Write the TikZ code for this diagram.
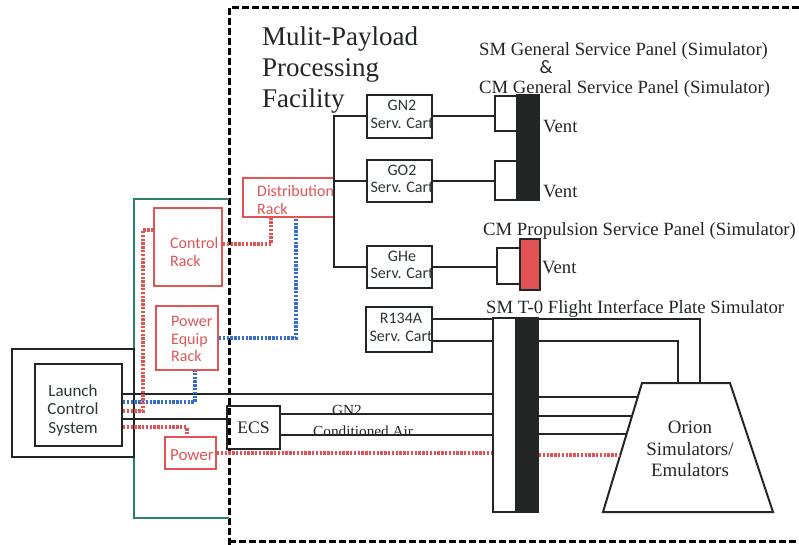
\documentclass[tikz,border=0pt]{standalone}
\usepackage{fontspec}
\setmainfont{Liberation Serif}
\setsansfont{Carlito}
\usetikzlibrary{calc}
\definecolor{myred}{RGB}{226,84,84}
\definecolor{myblue}{RGB}{55,110,205}
\definecolor{mygreen}{RGB}{40,130,100}
\definecolor{ink}{RGB}{34,38,36}
\definecolor{sanstext}{RGB}{45,55,50}
\begin{document}
\begin{tikzpicture}[x=1pt,y=-1pt,
  box/.style={draw=ink, line width=2pt, inner sep=0pt},
  rbox/.style={draw=myred, line width=2pt, inner sep=0pt},
  wire/.style={draw=ink, line width=2pt},
  rdots/.style={draw=myred, line width=4pt, dash pattern=on 2.4pt off 1.4pt},
  bdots/.style={draw=myblue, line width=4pt, dash pattern=on 2.4pt off 1.4pt},
  sanslbl/.style={font=\sffamily\fontsize{16}{17.5}\selectfont, text=sanstext, inner sep=0pt},
  redlbl/.style={font=\sffamily\fontsize{16}{17.5}\selectfont, text=myred, inner sep=0pt, align=left},
  seriflbl/.style={font=\fontsize{18.7}{21}\selectfont, text=ink, inner sep=0pt},
]
\useasboundingbox (0,0) rectangle (799,545);

% facility boundary
\draw[black, line width=3pt, dash pattern=on 7pt off 3pt] (799,8) -- (229,8) -- (229,545);
\draw[black, line width=3pt, dash pattern=on 7pt off 3pt] (229,541) -- (799,541);
% green enclosure
\draw[mygreen, line width=1.8pt] (229,199) -- (134,199) -- (134,518) -- (229,518);

% boxes
\node[box, minimum width=122pt, minimum height=108pt] (lcsout) at (73,403) {};
\node[box, minimum width=87pt, minimum height=82pt] (lcs) at (78.5,405) {};
\node[sanslbl, font=\sffamily\fontsize{17}{18.5}\selectfont, align=center] (lcstxt) at (73,410) {Launch\\Control\\System};

\node[rbox, minimum width=68pt, minimum height=78pt] (cr) at (188,247) {};
\node[redlbl, anchor=west] (crtxt) at (170,252) {Control\\Rack};
\node[rbox, minimum width=62pt, minimum height=64pt] (pe) at (187,338) {};
\node[redlbl, anchor=west] (petxt) at (171,339) {Power\\Equip\\Rack};
\node[rbox, minimum width=51pt, minimum height=32pt] (pw) at (190.5,453) {};
\node[redlbl, font=\sffamily\fontsize{17}{18}\selectfont] (pwtxt) at (192,455) {Power};
\node[rbox, minimum width=91pt, minimum height=39pt] (dist) at (288.5,197.5) {};
\node[redlbl, anchor=west] (disttxt) at (257,200) {Distribution\\Rack};

\node[box, minimum width=53pt, minimum height=43pt] (ecs) at (253.5,427.5) {};
\node[seriflbl, font=\fontsize{17.6}{20}\selectfont] (ecstxt) at (253.5,428) {ECS};

\node[box, minimum width=65pt, minimum height=43pt] (gn2) at (399.5,116.5) {};
\node[sanslbl, align=center] (gn2txt) at (402,114.5) {GN2\\Serv. Cart};
\node[box, minimum width=65pt, minimum height=42pt] (go2) at (399.5,181) {};
\node[sanslbl, align=center] (go2txt) at (402,179) {GO2\\Serv. Cart};
\node[box, minimum width=65pt, minimum height=42pt] (ghe) at (399.5,267) {};
\node[sanslbl, align=center] (ghetxt) at (402,265) {GHe\\Serv. Cart};
\node[box, minimum width=66pt, minimum height=45pt] (r134) at (399,329.5) {};
\node[sanslbl, align=center] (r134txt) at (401,327.5) {R134A\\Serv. Cart};

% service panels
\node[box, minimum width=22pt, minimum height=35pt] (w1) at (506,113.5) {};
\node[box, minimum width=22pt, minimum height=39pt] (w2) at (506,180.5) {};
\node[box, fill=ink, minimum width=22pt, minimum height=105pt] (bar1) at (528,147.5) {};
\node[box, minimum width=23pt, minimum height=36pt] (cmw) at (508.5,266) {};
\node[box, fill=myred, minimum width=20pt, minimum height=51pt] (cmb) at (530,264.5) {};
\node[box, minimum width=23pt, minimum height=194pt] (t0w) at (504.5,415) {};
\node[box, fill=ink, minimum width=22pt, minimum height=194pt] (t0b) at (527,415) {};

% Orion trapezoid
\coordinate (otl) at (642,383);
\coordinate (otr) at (730,383);
\coordinate (obr) at (773,512);
\coordinate (obl) at (603,512);
\draw[wire] (otl) -- (otr) -- (obr) -- (obl) -- cycle;
\node[seriflbl, align=center, font=\fontsize{18.9}{21.5}\selectfont] (orion) at (690,449) {Orion\\Simulators/\\Emulators};
\coordinate (oa) at (700,383);
\coordinate (ob) at (678,383);
\coordinate (e1) at ($(otl)!0.1085!(obl)$);
\coordinate (e2) at ($(otl)!0.2558!(obl)$);
\coordinate (e3) at ($(otl)!0.3953!(obl)$);
\coordinate (e4) at ($(otl)!0.558!(obl)$);

% labels
\node[seriflbl, font=\fontsize{27}{31}\selectfont, anchor=north west, align=left] (title) at (262,26.5) {Mulit-Payload\\Processing\\Facility};
\node[seriflbl, anchor=base west] (smgsp) at (479,56) {SM General Service Panel (Simulator)};
\node[seriflbl, font=\sffamily\fontsize{19}{20}\selectfont, anchor=base] (amp) at (546,74) {\&};
\node[seriflbl, anchor=base west] (cmgsp) at (479,94) {CM General Service Panel (Simulator)};
\node[seriflbl, anchor=base west] (cmpsp) at (483,235) {CM Propulsion Service Panel (Simulator)};
\node[seriflbl, anchor=base west] (t0lbl) at (486,313) {SM T-0 Flight Interface Plate Simulator};
\node[seriflbl, anchor=base west] (vent1) at (543,133) {Vent};
\node[seriflbl, anchor=base west] (vent2) at (543,197) {Vent};
\node[seriflbl, anchor=base west] (vent3) at (542,273) {Vent};
\node[seriflbl, font=\fontsize{15.3}{17}\selectfont, anchor=base] (gn2lbl) at (347,415) {GN2};
\node[seriflbl, font=\fontsize{15.3}{17}\selectfont, anchor=base west] (calbl) at (313,436) {Conditioned Air};

% black connectors
\draw[wire] (lcs.east |- 0,394) -- (t0w.west |- 0,394);
\draw[wire] (lcs.east |- 0,419) -- (ecs.west |- 0,419);
\draw[wire] (ecs.east |- 0,414) -- (t0w.west |- 0,414);
\draw[wire] (ecs.east |- 0,435) -- (t0w.west |- 0,435);
\draw[wire] (gn2.west) -- ++(-32,0) |- (ghe.west);
\draw[wire] (dist.east |- go2.west) -- (go2.west);
\draw[wire] (gn2.east) -- (w1.west |- gn2.east);
\draw[wire] (go2.east) -- (w2.west |- go2.east);
\draw[wire] (ghe.east) -- (cmw.west |- ghe.east);
\draw[wire] (r134.east |- 0,319) -- (t0w.west |- 0,319);
\draw[wire] (r134.east |- 0,341) -- (t0w.west |- 0,341);
\draw[wire] (t0b.east |- 0,319) -| (oa);
\draw[wire] (t0b.east |- 0,341) -| (ob);
\draw[wire] (t0b.east |- e1) -- (e1);
\draw[wire] (t0b.east |- e2) -- (e2);
\draw[wire] (t0b.east |- e3) -- (e3);

% dotted power / data connectors
\draw[bdots] (lcs.east |- 0,402) -| ($(pe.south)+(8,0)$);
\draw[rdots] (lcs.east |- 0,411) -| (143,230) -- (cr.west |- 0,230);
\draw[rdots] (lcs.east |- 0,427) -| ($(pw.north)+(-4,0)$);
\draw[rdots] (cr.east |- 0,244) -| ($(dist.south west)+(29,0)$);
\draw[bdots] (pe.east) -| ($(dist.south west)+(54,0)$);
\draw[rdots] (pw.east) -- (t0w.west |- pw.east);
\draw[rdots] (t0b.east |- e4) -- (e4);
\end{tikzpicture}
\end{document}
